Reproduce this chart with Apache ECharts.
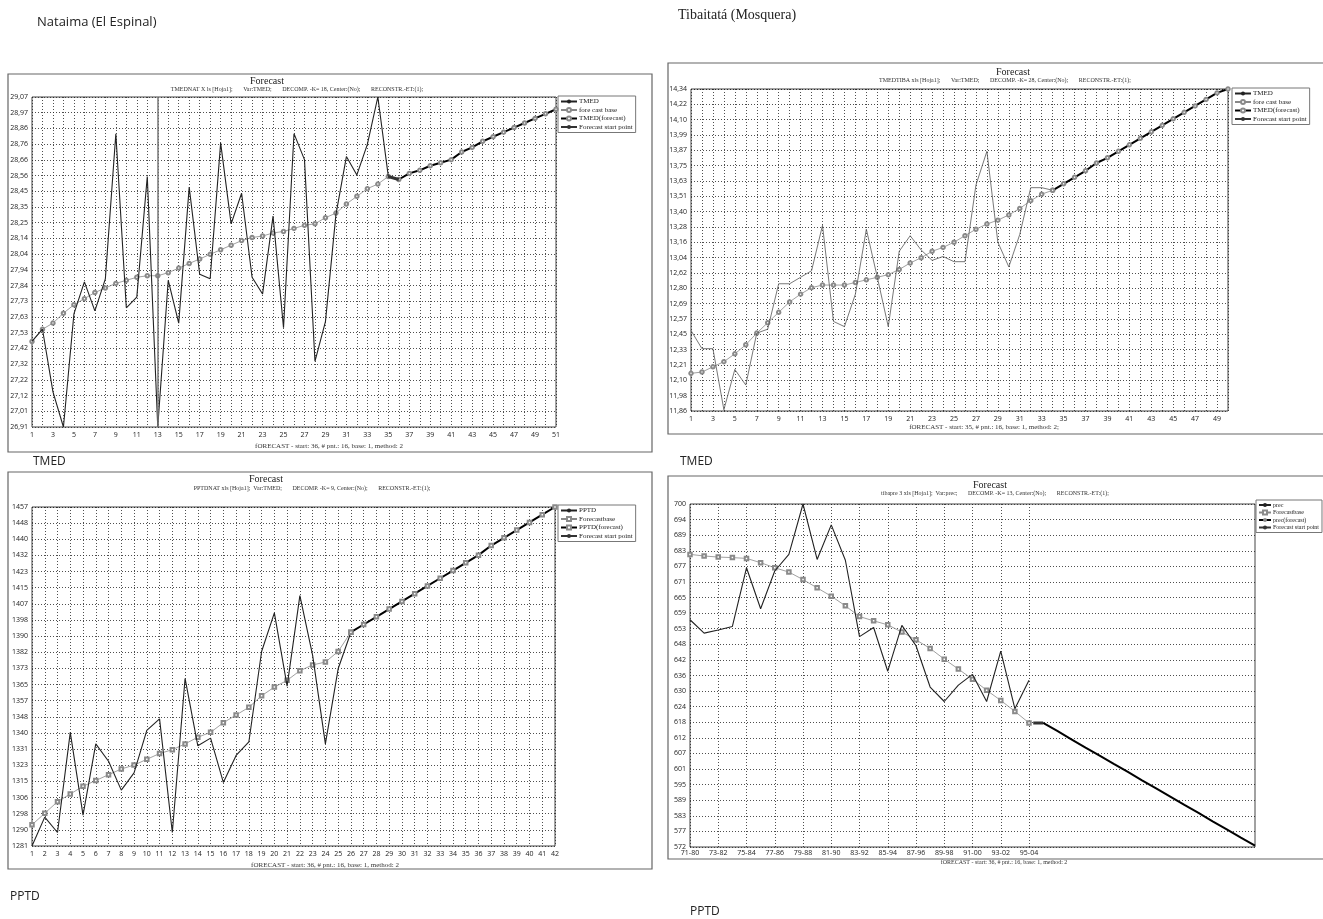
<!DOCTYPE html>
<html><head><meta charset="utf-8">
<script src="https://cdn.jsdelivr.net/npm/echarts@6/dist/echarts.min.js"></script>
<style>html,body{margin:0;padding:0;background:#fff;}#c{width:1323px;height:919px;}</style>
</head><body><div id="c"></div>
<script>
// ---------------- DATA ----------------
// Top-left: Nataima (El Espinal) TMED
const TL_Y_LABELS = ['26,91','27,01','27,12','27,22','27,32','27,42','27,53','27,63','27,73','27,84','27,94','28,04','28,14','28,25','28,35','28,45','28,56','28,66','28,76','28,86','28,97','29,07'];
const TL_ACTUAL_START = 1;
const TL_ACTUAL = [27.47,27.55,27.14,26.91,27.65,27.86,27.67,27.88,28.83,27.69,27.76,28.55,26.91,27.87,27.59,28.48,27.91,27.88,28.77,28.24,28.44,27.89,27.78,28.29,27.56,28.83,28.66,27.34,27.60,28.30,28.68,28.56,28.76,29.07,28.55,28.53];
const TL_BASE_START = 1;
const TL_BASE = [27.47,27.55,27.59,27.655,27.71,27.75,27.79,27.82,27.85,27.87,27.89,27.90,27.90,27.92,27.95,27.98,28.01,28.04,28.07,28.10,28.13,28.15,28.16,28.18,28.19,28.21,28.23,28.24,28.28,28.31,28.37,28.42,28.47,28.50,28.55];
const TL_FC_START = 36;
const TL_FC = [28.53,28.57,28.59,28.62,28.64,28.66,28.71,28.74,28.78,28.81,28.84,28.87,28.90,28.93,28.96,28.99];
const TL_STARTPT_X = [35,36];
const TL_STARTPT_Y = [28.55,28.53];
const TL_MARK_X = [13];

// Top-right: Tibaitatá (Mosquera) TMED
const TR_Y_LABELS = ['11,86','11,98','12,10','12,21','12,33','12,45','12,57','12,69','12,80','12,62','13,04','13,16','13,28','13,40','13,51','13,63','13,75','13,87','13,99','14,10','14,22','14,34'];
const TR_ACTUAL_START = 1;
const TR_ACTUAL = [12.48,12.34,12.34,11.87,12.18,12.06,12.46,12.49,12.84,12.84,12.89,12.94,13.29,12.55,12.51,12.76,13.26,12.89,12.51,13.09,13.21,13.10,13.02,13.05,13.01,13.01,13.60,13.86,13.16,12.97,13.22,13.58,13.58,13.56];
const TR_BASE_START = 1;
const TR_BASE = [12.15,12.16,12.20,12.24,12.30,12.37,12.46,12.54,12.62,12.70,12.76,12.81,12.83,12.83,12.83,12.85,12.87,12.89,12.91,12.95,13.00,13.04,13.09,13.12,13.16,13.21,13.26,13.30,13.33,13.37,13.42,13.48,13.53,13.56];
const TR_FC_START = 34;
const TR_FC = [13.56,13.61,13.66,13.71,13.77,13.81,13.86,13.91,13.96,14.01,14.06,14.11,14.16,14.21,14.26,14.31,14.34];

// Bottom-left: Nataima PPTD
const BL_Y_LABELS = ['1281','1290','1298','1306','1315','1323','1331','1340','1348','1357','1365','1373','1382','1390','1398','1407','1415','1423','1432','1440','1448','1457'];
const BL_ACTUAL_START = 1;
const BL_ACTUAL = [1281,1296,1288,1340,1297,1334,1325,1310,1319,1341,1347,1288,1368,1333,1337,1314,1328,1335,1382,1402,1364,1411,1380,1334,1373,1392];
const BL_BASE_START = 1;
const BL_BASE = [1292,1298,1304,1308,1312,1315,1318,1321,1323,1326,1329,1331,1334,1337.5,1340,1345,1349,1353,1359,1363.5,1367,1372,1375,1376.5,1382,1392];
const BL_FC_START = 26;
const BL_FC = [1392,1396,1400,1404,1408,1412,1416,1420,1424,1428,1432,1437,1441,1445,1449,1453,1457];

// Bottom-right: Tibaitatá PPTD (prec)
const BR_Y_LABELS = ['572','577','583','589','595','601','607','612','618','624','630','636','642','648','653','659','665','671','677','683','689','694','700'];
const BR_PERIODS = ['71-80','72-81','73-82','74-83','75-84','76-85','77-86','78-87','79-88','80-89','81-90','82-91','83-92','84-93','85-94','86-95','87-96','88-97','89-98','90-99','91-00','92-01','93-02','94-03','95-04'];
const BR_ACTUAL_START = 0;
const BR_ACTUAL = [656.8,651.8,653,654.3,676.2,660.9,675,681.2,700,679.3,692.2,679,650.5,653.9,637.6,654.7,647.1,631.7,626.3,632.4,636.4,626.3,645.1,623.6,634.2];
const BR_BASE_START = 0;
const BR_BASE = [681.2,680.6,680.2,680,679.7,678.1,676.2,674.6,671.8,668.7,665.6,662,658,656.4,654.9,652.2,649.3,646.1,642.1,638.4,634.6,630.5,626.7,622.6,618.3];
const BR_FC_START = 25;
const BR_FC = [618.3,615.3,612.2,609.1,606.1,603.0,600.0,596.9,593.9,590.8,587.7,584.7,581.6,578.6,575.5,572.5];
const BR_STARTPT_X = [24.3,25];
const BR_STARTPT_Y = [618.3,618.3];
const BR_X_MAX = 40;

// ---------------- STYLE / LAYOUT ----------------
const SERIF = '"Liberation Serif","Times New Roman",serif';
const SANS = '"Open Sans","Liberation Sans",sans-serif';
const GRIDLINE = {type:[1,2], color:'#222', width:0.8};

const L = {
  tl:{box:[8,74,644,378], grid:{left:32,top:97,width:524,height:330}, title:[267,81], sub:[297,89], foot:[329,446], legend:[558,96], lfont:7, lw:16, xm:4},
  tr:{box:[668,63,670,371], grid:{left:691,top:89,width:537,height:322}, title:[1013,72], sub:[1005,80], foot:[984,427], legend:[1232,88], lfont:7, lw:16, xm:4},
  bl:{box:[8,472,644,397], grid:{left:32,top:507,width:523,height:339}, title:[266,479], sub:[312,488], foot:[325,865], legend:[558,505], lfont:7, lw:16, xm:4},
  br:{box:[668,476,670,383], grid:{left:690,top:504,width:565,height:343}, title:[990,485], sub:[995,493], foot:[1004,862], legend:[1256,500], lfont:6, lw:12, xm:2}
};

function pairs(start, arr){ return arr.map((v,i)=>[start+i, v]); }
function zip(xs, ys){ return xs.map((x,i)=>[x, ys[i]]); }
const toNum = s => parseFloat(s.replace(',', '.'));

function yAxis(gi, labels){
  const min = toNum(labels[0]), max = toNum(labels[labels.length-1]);
  const step = (max-min)/(labels.length-1);
  return {type:'value', gridIndex:gi, min:min, max:max, interval:step,
    axisLine:{show:false}, axisTick:{show:false},
    axisLabel:{fontSize:7, color:'#222', fontFamily:SANS, margin:4,
      formatter:function(v){ const k=Math.round((v-min)/step); return labels[k]!==undefined?labels[k]:''; }},
    splitLine:{show:true, lineStyle:GRIDLINE}};
}
function xAxisNum(gi, min, max, every, margin){
  return {type:'value', gridIndex:gi, min:min, max:max, interval:1,
    axisLine:{show:false}, axisTick:{show:false},
    axisLabel:{fontSize:7, color:'#222', fontFamily:SANS, margin:margin,
      formatter:function(v){ return ((v-min)%every===0)?String(v):''; }},
    splitLine:{show:true, lineStyle:GRIDLINE}};
}

const actualStyle = (c,w)=>({type:'line', symbol:'none', lineStyle:{color:c, width:w}, itemStyle:{color:c}, z:3});
const baseStyle = (sym)=>({type:'line', symbol:sym, symbolSize:3.5, lineStyle:{color:'#888', width:0.8}, itemStyle:{color:'#8a8a8a', borderWidth:0.7}, z:2});
const fcStyle = (sym)=>({type:'line', symbol:sym, symbolSize:3.5, lineStyle:{color:'#000', width:2}, itemStyle:{color:'#8a8a8a', borderWidth:0.7}, z:4});
const startStyle = {type:'line', symbol:'none', lineStyle:{color:'#333', width:3}, itemStyle:{color:'#333'}, z:5};

const BR_CATS = BR_PERIODS.concat(BR_FC.map((v,i)=>'f'+i));
const brShow = function(i){ return i < BR_PERIODS.length && i % 2 === 0; };

const grids = ['tl','tr','bl','br'].map(k=>Object.assign({show:true, borderColor:'#444', borderWidth:1, backgroundColor:'transparent'}, L[k].grid));

const xAxes = [
  xAxisNum(0, 1, 51, 2, L.tl.xm),
  xAxisNum(1, 1, 50, 2, L.tr.xm),
  xAxisNum(2, 1, 42, 1, L.bl.xm),
  {type:'value', gridIndex:3, min:0, max:BR_X_MAX, show:false, position:'bottom'},
  {type:'category', gridIndex:3, position:'bottom', data:BR_CATS, boundaryGap:false,
   axisLine:{show:false}, axisTick:{show:false},
   axisLabel:{fontSize:7, color:'#222', fontFamily:SANS, margin:L.br.xm, interval:brShow},
   splitLine:{show:true, interval:brShow, lineStyle:GRIDLINE}}
];
const yAxes = [yAxis(0,TL_Y_LABELS), yAxis(1,TR_Y_LABELS), yAxis(2,BL_Y_LABELS), yAxis(3,BR_Y_LABELS)];

const series = [
  Object.assign(actualStyle('#222',1.1), {name:'TMED', xAxisIndex:0, yAxisIndex:0, data:pairs(TL_ACTUAL_START,TL_ACTUAL),
    markLine:{silent:true, symbol:'none', label:{show:false}, lineStyle:{color:'#777', width:1.5, type:'solid'}, data:TL_MARK_X.map(x=>({xAxis:x}))}}),
  Object.assign(baseStyle('emptyCircle'), {name:'fore cast base', xAxisIndex:0, yAxisIndex:0, data:pairs(TL_BASE_START,TL_BASE)}),
  Object.assign(fcStyle('emptyCircle'), {name:'TMED(forecast)', xAxisIndex:0, yAxisIndex:0, data:pairs(TL_FC_START,TL_FC)}),
  Object.assign({}, startStyle, {name:'Forecast start point', xAxisIndex:0, yAxisIndex:0, data:zip(TL_STARTPT_X,TL_STARTPT_Y)}),

  Object.assign(actualStyle('#555',0.8), {name:'TMED', xAxisIndex:1, yAxisIndex:1, data:pairs(TR_ACTUAL_START,TR_ACTUAL)}),
  Object.assign(baseStyle('emptyCircle'), {name:'fore cast base', xAxisIndex:1, yAxisIndex:1, data:pairs(TR_BASE_START,TR_BASE)}),
  Object.assign(fcStyle('emptyCircle'), {name:'TMED(forecast)', xAxisIndex:1, yAxisIndex:1, data:pairs(TR_FC_START,TR_FC)}),

  Object.assign(actualStyle('#222',1.1), {name:'PPTD', xAxisIndex:2, yAxisIndex:2, data:pairs(BL_ACTUAL_START,BL_ACTUAL)}),
  Object.assign(baseStyle('emptyRect'), {name:'Forecastbase', xAxisIndex:2, yAxisIndex:2, data:pairs(BL_BASE_START,BL_BASE)}),
  Object.assign(fcStyle('emptyRect'), {name:'PPTD(forecast)', xAxisIndex:2, yAxisIndex:2, data:pairs(BL_FC_START,BL_FC)}),

  Object.assign(actualStyle('#222',1.1), {name:'prec', xAxisIndex:3, yAxisIndex:3, data:pairs(BR_ACTUAL_START,BR_ACTUAL)}),
  Object.assign(baseStyle('emptyRect'), {name:'Forecastbase', xAxisIndex:3, yAxisIndex:3, data:pairs(BR_BASE_START,BR_BASE)}),
  Object.assign(fcStyle('none'), {name:'prec(forecast)', xAxisIndex:3, yAxisIndex:3, data:pairs(BR_FC_START,BR_FC)}),
  Object.assign({}, startStyle, {name:'Forecast start point', xAxisIndex:3, yAxisIndex:3, data:zip(BR_STARTPT_X,BR_STARTPT_Y)})
];

function legend(k, names){
  return {orient:'vertical', left:L[k].legend[0], top:L[k].legend[1], itemWidth:L[k].lw, itemHeight:5, itemGap:1.5,
    padding:[2,3,2,2], borderColor:'#777', borderWidth:1, backgroundColor:'#fff', selectedMode:false,
    textStyle:{fontSize:L[k].lfont, fontFamily:SERIF, color:'#222', padding:[0,0,0,-3]}, data:names};
}
const legends = [
  legend('tl', ['TMED','fore cast base','TMED(forecast)','Forecast start point']),
  legend('tr', ['TMED','fore cast base','TMED(forecast)','Forecast start point']),
  legend('bl', ['PPTD','Forecastbase','PPTD(forecast)','Forecast start point']),
  legend('br', ['prec','Forecastbase','prec(forecast)','Forecast start point'])
];

const SUBS = {
  tl:'TMEDNAT X ls [Hoja1];       Var:TMED;       DECOMP. -K= 18, Center:(No);       RECONSTR.-ET:(1);',
  tr:'TMEDTIBA xls [Hoja1];       Var:TMED;       DECOMP. -K= 28, Center:(No);       RECONSTR.-ET:(1);',
  bl:'PPTDNAT xls [Hoja1];  Var:TMED;       DECOMP. -K= 9, Center:(No);       RECONSTR.-ET:(1);',
  br:'tibapre 3 xls [Hoja1];  Var:prec;       DECOMP. -K= 13, Center:(No);       RECONSTR.-ET:(1);'
};
const FOOTS = {
  tl:'fORECAST - start: 36, # pnt.: 16, base: 1, method: 2',
  tr:'fORECAST - start: 35, # pnt.: 16, base: 1, method: 2;',
  bl:'fORECAST - start: 36, # pnt.: 16, base: 1, method: 2',
  br:'fORECAST - start: 36, # pnt.: 16, base: 1, method: 2'
};
const CAPTIONS = [
  {text:'Nataima (El Espinal)', x:37, y:22, font:'13px '+SANS},
  {text:'Tibaitatá (Mosquera)', x:678, y:15, font:'14px '+SERIF},
  {text:'TMED', x:33, y:462, font:'12px '+SANS},
  {text:'TMED', x:680, y:462, font:'12px '+SANS},
  {text:'PPTD', x:10, y:897, font:'12px '+SANS},
  {text:'PPTD', x:690, y:912, font:'12px '+SANS}
];

const graphic = [];
['tl','tr','bl','br'].forEach(k=>{
  const b = L[k].box;
  graphic.push({type:'rect', silent:true, z:-10, shape:{x:b[0],y:b[1],width:b[2],height:b[3]}, style:{fill:'#fff', stroke:'#666', lineWidth:1.2}});
  graphic.push({type:'text', silent:true, x:L[k].title[0], y:L[k].title[1], style:{text:'Forecast', font:'10px '+SERIF, fill:'#222', align:'center', verticalAlign:'middle'}});
  graphic.push({type:'text', silent:true, x:L[k].sub[0], y:L[k].sub[1], style:{text:SUBS[k], font:'6px '+SERIF, fill:'#333', align:'center', verticalAlign:'middle'}});
  graphic.push({type:'text', silent:true, x:L[k].foot[0], y:L[k].foot[1], style:{text:FOOTS[k], font:(k==='br'?'6px ':'7px ')+SERIF, fill:'#333', align:'center', verticalAlign:'middle'}});
});
CAPTIONS.forEach(c=>graphic.push({type:'text', silent:true, x:c.x, y:c.y, style:{text:c.text, font:c.font, fill:'#222', verticalAlign:'middle'}}));

const chart = echarts.init(document.getElementById('c'), null, {renderer:'canvas'});
chart.setOption({
  animation:false,
  backgroundColor:'#fff',
  grid:grids, xAxis:xAxes, yAxis:yAxes, legend:legends, series:series, graphic:graphic
});
</script></body></html>
